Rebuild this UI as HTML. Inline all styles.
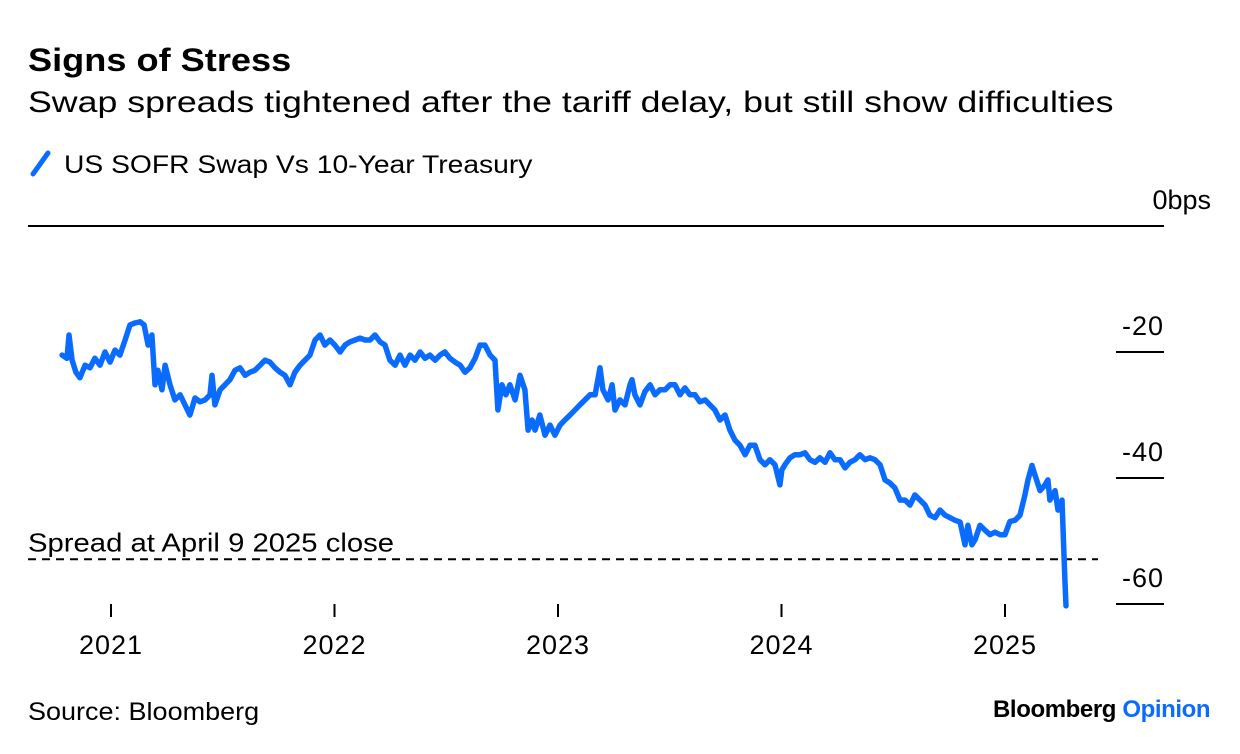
<!DOCTYPE html>
<html><head><meta charset="utf-8"><style>
body{margin:0;background:#fff;font-family:"Liberation Sans",sans-serif;color:#000}
#w{position:relative;width:1240px;height:754px;overflow:hidden}
.t{position:absolute;white-space:nowrap;transform-origin:0 0}
</style></head><body>
<div id="w">
<div class="t" style="left:28px;top:42px;font-size:32px;font-weight:bold;transform:scaleX(1.13)">Signs of Stress</div>
<div class="t" style="left:28px;top:86px;font-size:30px;transform:scaleX(1.19)">Swap spreads tightened after the tariff delay, but still show difficulties</div>
<div class="t" style="left:28px;top:148px;font-size:25px"><svg width="26" height="30" style="vertical-align:-5px"><line x1="5" y1="26" x2="20" y2="5" stroke="#0a6cff" stroke-width="5" stroke-linecap="round"/></svg><span style="display:inline-block;margin-left:10px;transform:scaleX(1.13);transform-origin:0 0">US SOFR Swap Vs 10-Year Treasury</span></div>
<svg id="c" width="1240" height="754" style="position:absolute;left:0;top:0"></svg>
<div class="t" style="left:28px;top:698px;font-size:25px;transform:scaleX(1.08)">Source: Bloomberg</div>
<div class="t" style="left:993px;top:696px;font-size:24px;font-weight:bold;letter-spacing:-0.4px">Bloomberg <span style="color:#0a6cff">Opinion</span></div>
</div>
<script>
const dates=[2020.781,2020.803,2020.812,2020.826,2020.843,2020.861,2020.884,2020.906,2020.928,2020.951,2020.973,2020.996,2021.018,2021.040,2021.063,2021.085,2021.107,2021.130,2021.148,2021.166,2021.183,2021.197,2021.210,2021.228,2021.242,2021.264,2021.286,2021.309,2021.331,2021.353,2021.376,2021.398,2021.421,2021.443,2021.452,2021.465,2021.488,2021.510,2021.532,2021.555,2021.577,2021.600,2021.622,2021.644,2021.667,2021.689,2021.711,2021.734,2021.756,2021.778,2021.801,2021.823,2021.846,2021.868,2021.890,2021.913,2021.935,2021.957,2021.980,2022.002,2022.025,2022.047,2022.069,2022.092,2022.114,2022.136,2022.159,2022.181,2022.204,2022.226,2022.248,2022.271,2022.293,2022.315,2022.338,2022.360,2022.383,2022.405,2022.427,2022.450,2022.472,2022.494,2022.517,2022.539,2022.562,2022.584,2022.606,2022.629,2022.651,2022.673,2022.696,2022.718,2022.731,2022.749,2022.767,2022.785,2022.808,2022.830,2022.852,2022.866,2022.884,2022.897,2022.919,2022.942,2022.964,2022.986,2023.009,2023.031,2023.054,2023.076,2023.098,2023.121,2023.143,2023.166,2023.188,2023.201,2023.224,2023.242,2023.255,2023.277,2023.300,2023.322,2023.331,2023.344,2023.367,2023.389,2023.412,2023.434,2023.456,2023.479,2023.501,2023.523,2023.546,2023.568,2023.590,2023.613,2023.635,2023.658,2023.680,2023.702,2023.725,2023.747,2023.769,2023.792,2023.814,2023.837,2023.859,2023.881,2023.904,2023.926,2023.948,2023.971,2023.993,2024.002,2024.015,2024.038,2024.060,2024.083,2024.105,2024.127,2024.150,2024.172,2024.195,2024.217,2024.239,2024.262,2024.284,2024.306,2024.329,2024.351,2024.374,2024.396,2024.418,2024.441,2024.463,2024.485,2024.508,2024.530,2024.553,2024.575,2024.597,2024.620,2024.642,2024.664,2024.687,2024.709,2024.732,2024.754,2024.776,2024.799,2024.821,2024.834,2024.852,2024.866,2024.888,2024.911,2024.933,2024.955,2024.978,2025.000,2025.022,2025.045,2025.067,2025.089,2025.103,2025.121,2025.134,2025.157,2025.179,2025.192,2025.201,2025.224,2025.237,2025.255,2025.268,2025.273];
const spreads=[-20.5,-21.0,-17.3,-21.3,-23.2,-24.1,-22.1,-22.5,-21.0,-22.1,-20.0,-21.6,-19.7,-20.5,-18.1,-15.7,-15.4,-15.2,-15.7,-18.9,-17.3,-25.2,-22.9,-26.0,-22.1,-25.2,-27.6,-26.8,-28.4,-30.0,-27.3,-27.9,-27.6,-26.8,-23.7,-28.4,-26.0,-25.2,-24.4,-22.9,-22.5,-23.7,-23.2,-22.9,-22.1,-21.3,-21.6,-22.5,-23.2,-23.7,-25.2,-23.2,-22.1,-21.3,-20.5,-18.1,-17.3,-18.9,-18.1,-18.9,-20.0,-18.9,-18.4,-18.1,-17.8,-18.1,-18.1,-17.3,-18.4,-18.9,-21.3,-22.1,-20.5,-22.1,-20.5,-21.3,-20.0,-21.0,-20.5,-21.3,-20.5,-20.0,-21.0,-21.6,-22.1,-23.2,-22.5,-21.0,-18.9,-18.9,-20.5,-21.3,-29.2,-25.2,-26.8,-25.2,-27.6,-23.7,-26.0,-32.4,-30.8,-32.4,-30.0,-33.2,-31.6,-33.2,-31.6,-30.8,-30.0,-29.2,-28.4,-27.6,-26.8,-26.8,-22.5,-26.0,-27.6,-25.2,-29.2,-27.6,-28.4,-25.2,-24.4,-26.8,-28.4,-26.3,-25.2,-26.8,-26.0,-26.0,-25.2,-25.2,-26.8,-25.7,-26.8,-26.8,-27.9,-27.6,-28.4,-29.2,-30.8,-30.0,-32.4,-34.0,-34.8,-36.3,-34.8,-34.8,-37.1,-37.9,-37.1,-37.9,-41.1,-38.7,-37.9,-36.8,-36.3,-36.3,-36.0,-37.1,-37.5,-36.8,-37.5,-36.0,-37.1,-37.1,-38.4,-37.5,-37.1,-36.3,-37.1,-36.8,-37.1,-37.9,-40.3,-40.8,-41.6,-43.5,-43.5,-44.3,-42.7,-43.5,-44.3,-45.9,-46.3,-45.1,-45.9,-46.3,-46.7,-47.0,-50.6,-47.5,-50.6,-49.8,-47.5,-48.3,-49.0,-48.6,-49.0,-49.0,-46.9,-46.7,-45.9,-42.7,-40.3,-38.0,-39.5,-42.0,-41.1,-40.3,-43.5,-42.0,-45.1,-43.5,-56.2,-60.3];
const yTicks=[0,-20,-40,-60];
const yTickLabels=["0bps","-20","-40","-60"];
const xTicks=[2021,2022,2023,2024,2025];
const refSpread=-52.9;
const X=t=>111+(t-2021)*223.5;
const Y=v=>226-v*6.3;
const svg=document.getElementById('c');const NS='http://www.w3.org/2000/svg';
function mk(tag,attrs){const e=document.createElementNS(NS,tag);for(const k in attrs)e.setAttribute(k,attrs[k]);svg.appendChild(e);return e;}
yTicks.forEach((v,i)=>{
 const l=mk('line',{x1:v===0?28:1116,x2:1164,y1:Y(v),y2:Y(v),stroke:'#000','stroke-width':2});
 
 
 const t=mk('text',{x:v===0?1211:1164,y:Y(v)-17,'text-anchor':'end','font-size':27,'font-family':'Liberation Sans, sans-serif','letter-spacing':v===0?0:1});
 t.textContent=yTickLabels[i];
 
 
});
xTicks.forEach(yr=>{
 const l=mk('line',{x1:X(yr),x2:X(yr),y1:604,y2:617,stroke:'#000','stroke-width':2});
 
 
 const t=mk('text',{x:X(yr),y:654,'text-anchor':'middle','font-size':27,'font-family':'Liberation Sans, sans-serif','letter-spacing':1});
 t.textContent=yr;
 
 
});
const d=mk('line',{x1:28,x2:1098,y1:Y(refSpread),y2:Y(refSpread),stroke:'#000','stroke-width':2,'stroke-dasharray':'8,6'});


const rt=mk('text',{x:28,y:Y(refSpread)-8,'font-size':26,'font-family':'Liberation Sans, sans-serif',textLength:366,lengthAdjust:'spacingAndGlyphs'});
rt.textContent='Spread at April 9 2025 close';


const p=mk('path',{d:dates.map((t,i)=>(i?'L':'M')+X(t).toFixed(1)+','+Y(spreads[i]).toFixed(1)).join(''),fill:'none',stroke:'#0a6cff','stroke-width':5.5,'stroke-linejoin':'round','stroke-linecap':'round'});


</script>
</body></html>
